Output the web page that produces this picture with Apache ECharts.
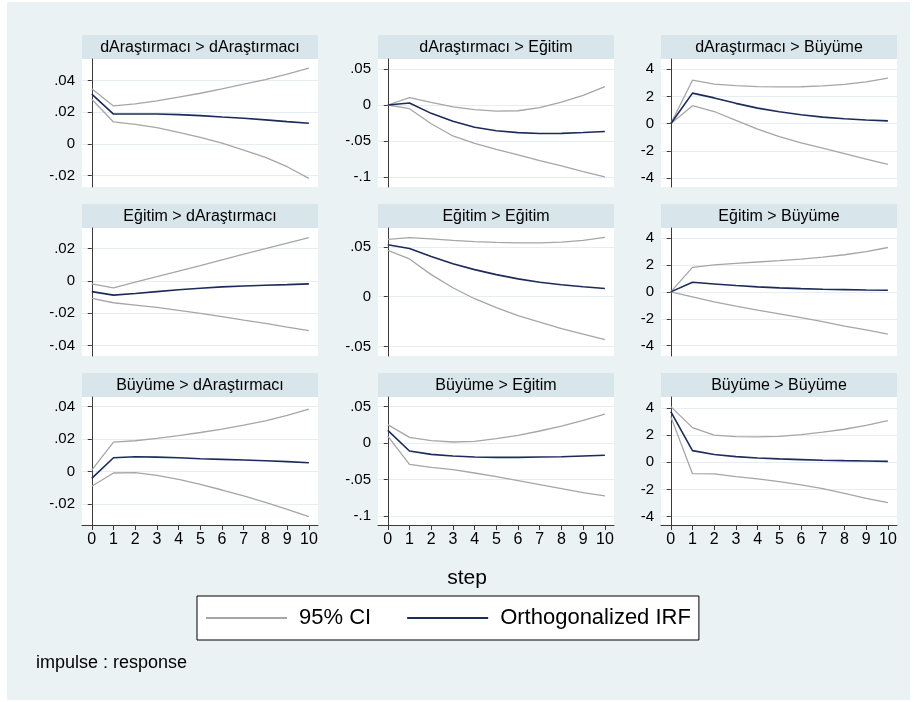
<!DOCTYPE html>
<html><head><meta charset="utf-8">
<script src="https://cdn.jsdelivr.net/npm/echarts@6/dist/echarts.min.js"></script>
<style>html,body{margin:0;padding:0;background:#fff}#c{width:918px;height:702px}</style>
</head><body><div id="c"></div>
<script>
// ---------- data ----------
const steps = [0,1,2,3,4,5,6,7,8,9,10];
const panelTitles = [
  "dAraştırmacı > dAraştırmacı", "dAraştırmacı > Eğitim", "dAraştırmacı > Büyüme",
  "Eğitim > dAraştırmacı", "Eğitim > Eğitim", "Eğitim > Büyüme",
  "Büyüme > dAraştırmacı", "Büyüme > Eğitim", "Büyüme > Büyüme"
];
// tick labels of each panel's y axis
const yTicks = [
  [-0.02,0,0.02,0.04], [-0.1,-0.05,0,0.05], [-4,-2,0,2,4],
  [-0.04,-0.02,0,0.02], [-0.05,0,0.05], [-4,-2,0,2,4],
  [-0.02,0,0.02,0.04], [-0.1,-0.05,0,0.05], [-4,-2,0,2,4]
];
// plot-region extent of each panel's y axis
const yMin = [-0.0271,-0.1139,-4.65, -0.0464,-0.0595,-4.77, -0.0331,-0.1126,-4.63];
const yMax = [ 0.0536, 0.0639, 4.76,  0.0327, 0.0690, 4.75,  0.0459, 0.0632, 4.82];

// row 1: impulse dAraştırmacı
const hi11  = [.0349,.024,.0253,.0272,.0295,.032,.0347,.0377,.0406,.044,.0478];
const irf11 = [.0314,.0189,.0189,.0189,.0185,.0179,.017,.0162,.0152,.0141,.0131];
const lo11  = [.0282,.0139,.0124,.0103,.0074,.0042,.0006,-.0038,-.0084,-.0143,-.0217];

const hi12  = [0,.0102,.0035,-.0025,-.0065,-.0085,-.008,-.0035,.004,.0135,.0255];
const irf12 = [0,.0028,-.0116,-.0227,-.031,-.0357,-.0384,-.0396,-.0394,-.0382,-.0368];
const lo12  = [0,-.0051,-.026,-.043,-.0532,-.0616,-.0694,-.0773,-.0847,-.0926,-.1];

const hi13  = [0,3.2,2.92,2.8,2.73,2.71,2.72,2.78,2.9,3.08,3.35];
const irf13 = [0,2.25,1.9,1.5,1.15,0.88,0.66,0.49,0.37,0.28,0.21];
const lo13  = [0,1.33,0.9,0.25,-0.4,-0.95,-1.4,-1.8,-2.2,-2.6,-2.98];

// row 2: impulse Eğitim
const hi21  = [-.0018,-.0043,-.0008,.0026,.0061,.0095,.013,.0165,.0199,.0234,.0268];
const irf21 = [-.0066,-.0088,-.0078,-.0066,-.0055,-.0045,-.0037,-.0031,-.0027,-.0023,-.0018];
const lo21  = [-.0108,-.0135,-.0149,-.0164,-.0182,-.02,-.0221,-.0242,-.0262,-.0285,-.0307];

const hi22  = [.0575,.0593,.058,.0565,.0553,.0545,.054,.054,.0548,.0565,.0595];
const irf22 = [.0521,.0485,.0405,.0332,.0272,.0222,.0179,.0146,.012,.01,.0083];
const lo22  = [.0465,.0379,.0222,.009,-.002,-.011,-.019,-.0255,-.032,-.0375,-.043];

const hi23  = [0,1.82,2.0,2.12,2.22,2.32,2.44,2.59,2.76,3.0,3.3];
const irf23 = [0,0.71,0.59,0.47,0.37,0.3,0.24,0.2,0.17,0.14,0.12];
const lo23  = [0,-0.37,-0.74,-1.06,-1.35,-1.63,-1.92,-2.22,-2.54,-2.83,-3.15];

// row 3: impulse Büyüme
const hi31  = [.0008,.0181,.0189,.0203,.022,.024,.0261,.0286,.0312,.0345,.0384];
const irf31 = [-.0043,.0084,.009,.0088,.0084,.0078,.0074,.007,.0066,.006,.0053];
const lo31  = [-.0092,-.001,-.0008,-.0025,-.0049,-.008,-.0115,-.0152,-.0191,-.0234,-.0279];

const hi32  = [.0252,.0078,.0032,.0014,.0023,.0059,.0105,.0165,.0233,.0311,.0398];
const irf32 = [.0174,-.011,-.0156,-.0178,-.0192,-.0197,-.0197,-.0192,-.0188,-.0178,-.0169];
const lo32  = [.0096,-.0293,-.0334,-.0366,-.0412,-.0462,-.0517,-.0572,-.0627,-.0682,-.0727];

const hi33  = [4.11,2.56,2.0,1.9,1.87,1.92,2.04,2.22,2.44,2.73,3.08];
const irf33 = [3.74,0.86,0.57,0.42,0.32,0.25,0.2,0.15,0.12,0.1,0.07];
const lo33  = [3.37,-0.84,-0.86,-1.06,-1.23,-1.43,-1.67,-1.95,-2.29,-2.66,-2.98];

const panels = [
  [hi11,irf11,lo11],[hi12,irf12,lo12],[hi13,irf13,lo13],
  [hi21,irf21,lo21],[hi22,irf22,lo22],[hi23,irf23,lo23],
  [hi31,irf31,lo31],[hi32,irf32,lo32],[hi33,irf33,lo33]
];

// ---------- layout / style ----------
const FONT = "'Liberation Sans', Arial, sans-serif";
const colLeft = [82, 378, 661], colW = 236;
const rowTop = [59, 228, 397], plotH = 128, titleH = 24;
const CI_COLOR = '#a6a6a6', IRF_COLOR = '#1c2b5a', AXIS_COLOR = '#3a3a3a';

function stataFmt(v) {
  let s = String(Math.round(v * 10000) / 10000);
  return s.replace(/^(-?)0\./, '$1.');
}
function pairs(ys) { return steps.map((x, i) => [x, ys[i]]); }

const grids = [], xAxes = [], yAxes = [], series = [];
const graphics = [{
  type: 'rect', z: -100, silent: true,
  shape: { x: 7, y: 2, width: 903, height: 698 },
  style: { fill: '#eaf2f3' }
}];

for (let p = 0; p < 9; p++) {
  const r = Math.floor(p / 3), c = p % 3;
  const bottomRow = r === 2;
  grids.push({
    left: colLeft[c], top: rowTop[r], width: colW, height: plotH,
    show: true, backgroundColor: '#ffffff', borderWidth: 0
  });
  xAxes.push({
    type: 'value', gridIndex: p, min: -0.45, max: 10.42,
    show: bottomRow,
    axisLine: { show: true, onZero: false, lineStyle: { color: AXIS_COLOR, width: 1 } },
    axisTick: { show: true, length: 5, customValues: steps, lineStyle: { color: AXIS_COLOR } },
    axisLabel: { show: true, customValues: steps, fontSize: 16, color: '#000', fontFamily: FONT, margin: 7 },
    splitLine: { show: false }
  });
  yAxes.push({
    type: 'value', gridIndex: p, min: yMin[p], max: yMax[p],
    axisLine: { show: true, lineStyle: { color: AXIS_COLOR, width: 1 } },
    axisTick: { show: true, length: 4, customValues: yTicks[p], lineStyle: { color: AXIS_COLOR } },
    axisLabel: { show: true, customValues: yTicks[p], formatter: stataFmt, fontSize: 15, color: '#000', fontFamily: FONT, margin: 7 },
    splitLine: { show: true, lineStyle: { color: '#e6eef1', width: 1 } }
  });
  const [hi, irf, lo] = panels[p];
  [hi, lo].forEach(d => series.push({
    type: 'line', name: '95% CI', xAxisIndex: p, yAxisIndex: p, data: pairs(d),
    symbol: 'none', silent: true, animation: false,
    lineStyle: { color: CI_COLOR, width: 1.3 }, itemStyle: { color: CI_COLOR }
  }));
  series.push({
    type: 'line', name: 'Orthogonalized IRF', xAxisIndex: p, yAxisIndex: p, data: pairs(irf),
    symbol: 'none', silent: true, animation: false, z: 3,
    lineStyle: { color: IRF_COLOR, width: 1.6 }, itemStyle: { color: IRF_COLOR }
  });
  graphics.push({
    type: 'rect', silent: true,
    shape: { x: colLeft[c], y: rowTop[r] - titleH, width: colW, height: titleH },
    style: { fill: '#d8e5eb' }
  });
  graphics.push({
    type: 'text', silent: true,
    x: colLeft[c] + colW / 2, y: rowTop[r] - titleH / 2 + 1,
    style: { text: panelTitles[p], fill: '#000', font: '16px ' + FONT, textAlign: 'center', textVerticalAlign: 'middle' }
  });
}

graphics.push({
  type: 'text', silent: true, x: 467, y: 578,
  style: { text: 'step', fill: '#000', font: '21px ' + FONT, textAlign: 'center', textVerticalAlign: 'middle' }
});
graphics.push({
  type: 'text', silent: true, x: 36, y: 663,
  style: { text: 'impulse : response', fill: '#000', font: '18px ' + FONT, textAlign: 'left', textVerticalAlign: 'middle' }
});

const chart = echarts.init(document.getElementById('c'), null, { renderer: 'canvas' });
chart.setOption({
  backgroundColor: '#ffffff',
  animation: false,
  grid: grids, xAxis: xAxes, yAxis: yAxes, series: series,
  graphic: { elements: graphics },
  legend: {
    data: [
      { name: '95% CI', icon: 'rect' },
      { name: 'Orthogonalized IRF', icon: 'rect' }
    ],
    left: 197, top: 596, orient: 'horizontal',
    itemWidth: 81, itemHeight: 2, itemGap: 36,
    padding: [9, 8, 9, 9],
    borderColor: '#000', borderWidth: 1, borderRadius: 0, backgroundColor: '#fff',
    selectedMode: false,
    textStyle: { fontSize: 22, color: '#000', fontFamily: FONT, lineHeight: 26, padding: [0, 0, 0, 7] }
  }
});
</script>
</body></html>
